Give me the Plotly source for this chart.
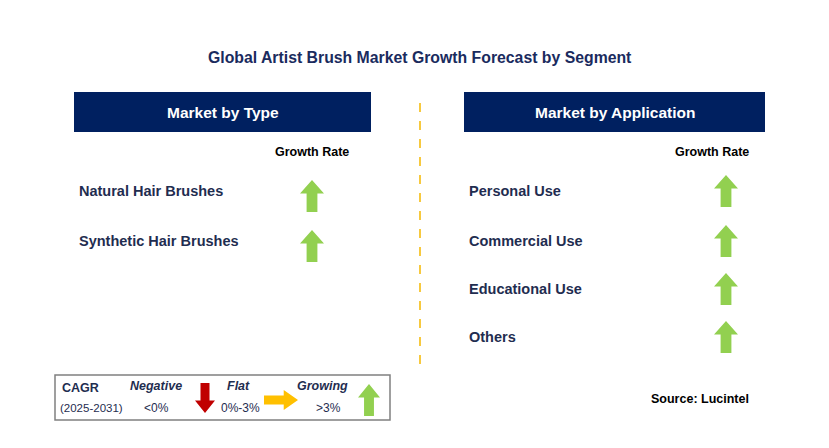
import plotly.graph_objects as go

title = "Global Artist Brush Market Growth Forecast by Segment"
type_items = ["Natural Hair Brushes", "Synthetic Hair Brushes"]
type_trend = ["up", "up"]
app_items = ["Personal Use", "Commercial Use", "Educational Use", "Others"]
app_trend = ["up", "up", "up", "up"]

NAVY = "#002060"
TXT = "#1F2D50"
COLORS = {"up": "#92D050", "down": "#C00000", "flat": "#FFC000"}

W, H = 829, 448
OFF = 8  # page body margin
fig = go.Figure()
shapes = []
ann = []


def arrow(cx, cy, kind, w=24, h=32):
    sw = w * 0.45
    hh = h * 0.42
    if kind == "up":
        pts = [(cx, cy - h / 2), (cx + w / 2, cy - h / 2 + hh), (cx + sw / 2, cy - h / 2 + hh),
               (cx + sw / 2, cy + h / 2), (cx - sw / 2, cy + h / 2), (cx - sw / 2, cy - h / 2 + hh),
               (cx - w / 2, cy - h / 2 + hh)]
    elif kind == "down":
        pts = [(cx, cy + h / 2), (cx + w / 2, cy + h / 2 - hh), (cx + sw / 2, cy + h / 2 - hh),
               (cx + sw / 2, cy - h / 2), (cx - sw / 2, cy - h / 2), (cx - sw / 2, cy + h / 2 - hh),
               (cx - w / 2, cy + h / 2 - hh)]
    else:  # right, w/h swapped
        pts = [(cx + h / 2, cy), (cx + h / 2 - hh, cy - w / 2), (cx + h / 2 - hh, cy - sw / 2),
               (cx - h / 2, cy - sw / 2), (cx - h / 2, cy + sw / 2), (cx + h / 2 - hh, cy + sw / 2),
               (cx + h / 2 - hh, cy + w / 2)]
    path = "M " + " L ".join(f"{x},{y}" for x, y in pts) + " Z"
    shapes.append(dict(type="path", path=path, fillcolor=COLORS[kind], line=dict(width=0)))


def text(x, y, s, size=14, color=TXT, anchor="left", bold=True, italic=False):
    if bold:
        s = f"<b>{s}</b>"
    if italic:
        s = f"<i>{s}</i>"
    ann.append(dict(x=x, y=y, text=s, showarrow=False, xanchor=anchor, yanchor="middle",
                    font=dict(size=size, color=color, family="Arial")))


text(420, 57, title, 15.8, "#1A2B5E", "center")

# headers
for x0, x1, lab in [(74, 371, "Market by Type"), (464, 765, "Market by Application")]:
    shapes.append(dict(type="rect", x0=x0, x1=x1, y0=92, y1=132, fillcolor=NAVY, line=dict(width=0)))
    text((x0 + x1) / 2, 112, lab, 15.5, "white", "center")

shapes.append(dict(type="line", x0=420, x1=420, y0=103, y1=365,
                   line=dict(color="#F5B800", width=1.5, dash="dash")))

text(312, 152, "Growth Rate", 12.5, "black", "center")
text(712, 152, "Growth Rate", 12.5, "black", "center")

type_y = [191, 241]
for lab, tr, y in zip(type_items, type_trend, type_y):
    text(77, y, lab, 14.5)
    arrow(312, y + 5, tr)

app_y = [191, 241, 289, 337]
for lab, tr, y in zip(app_items, app_trend, app_y):
    text(467, y, lab, 14.5)
    arrow(726, y, tr)

# legend box
shapes.append(dict(type="rect", x0=55, x1=390, y0=375, y1=420, fillcolor="white",
                   line=dict(color="#808080", width=1.5)))
text(60, 388, "CAGR", 12.5, TXT)
text(58, 408, "(2025-2031)", 11.5, TXT, bold=False)
text(156, 386, "Negative", 12.5, TXT, "center", italic=True)
text(156, 408, "&lt;0%", 12, TXT, "center", bold=False)
arrow(205, 398, "down", 20, 30)
text(238, 386, "Flat", 12.5, TXT, "center", italic=True)
text(240, 408, "0%-3%", 12, TXT, "center", bold=False)
arrow(281, 400, "flat", 20, 34)
text(322, 386, "Growing", 12.5, TXT, "center", italic=True)
text(328, 408, "&gt;3%", 12, TXT, "center", bold=False)
arrow(369, 400, "up", 22, 32)

text(700, 399, "Source: Lucintel", 12.5, "black", "center")

fig.update_layout(
    width=W - 2 * OFF, height=H - 2 * OFF, margin=dict(l=0, r=0, t=0, b=0),
    paper_bgcolor="white", plot_bgcolor="white",
    xaxis=dict(range=[OFF, W - OFF], visible=False, fixedrange=True),
    yaxis=dict(range=[H - OFF, OFF], visible=False, fixedrange=True),
    shapes=shapes, annotations=ann, showlegend=False,
)
fig.write_html("out.html")
